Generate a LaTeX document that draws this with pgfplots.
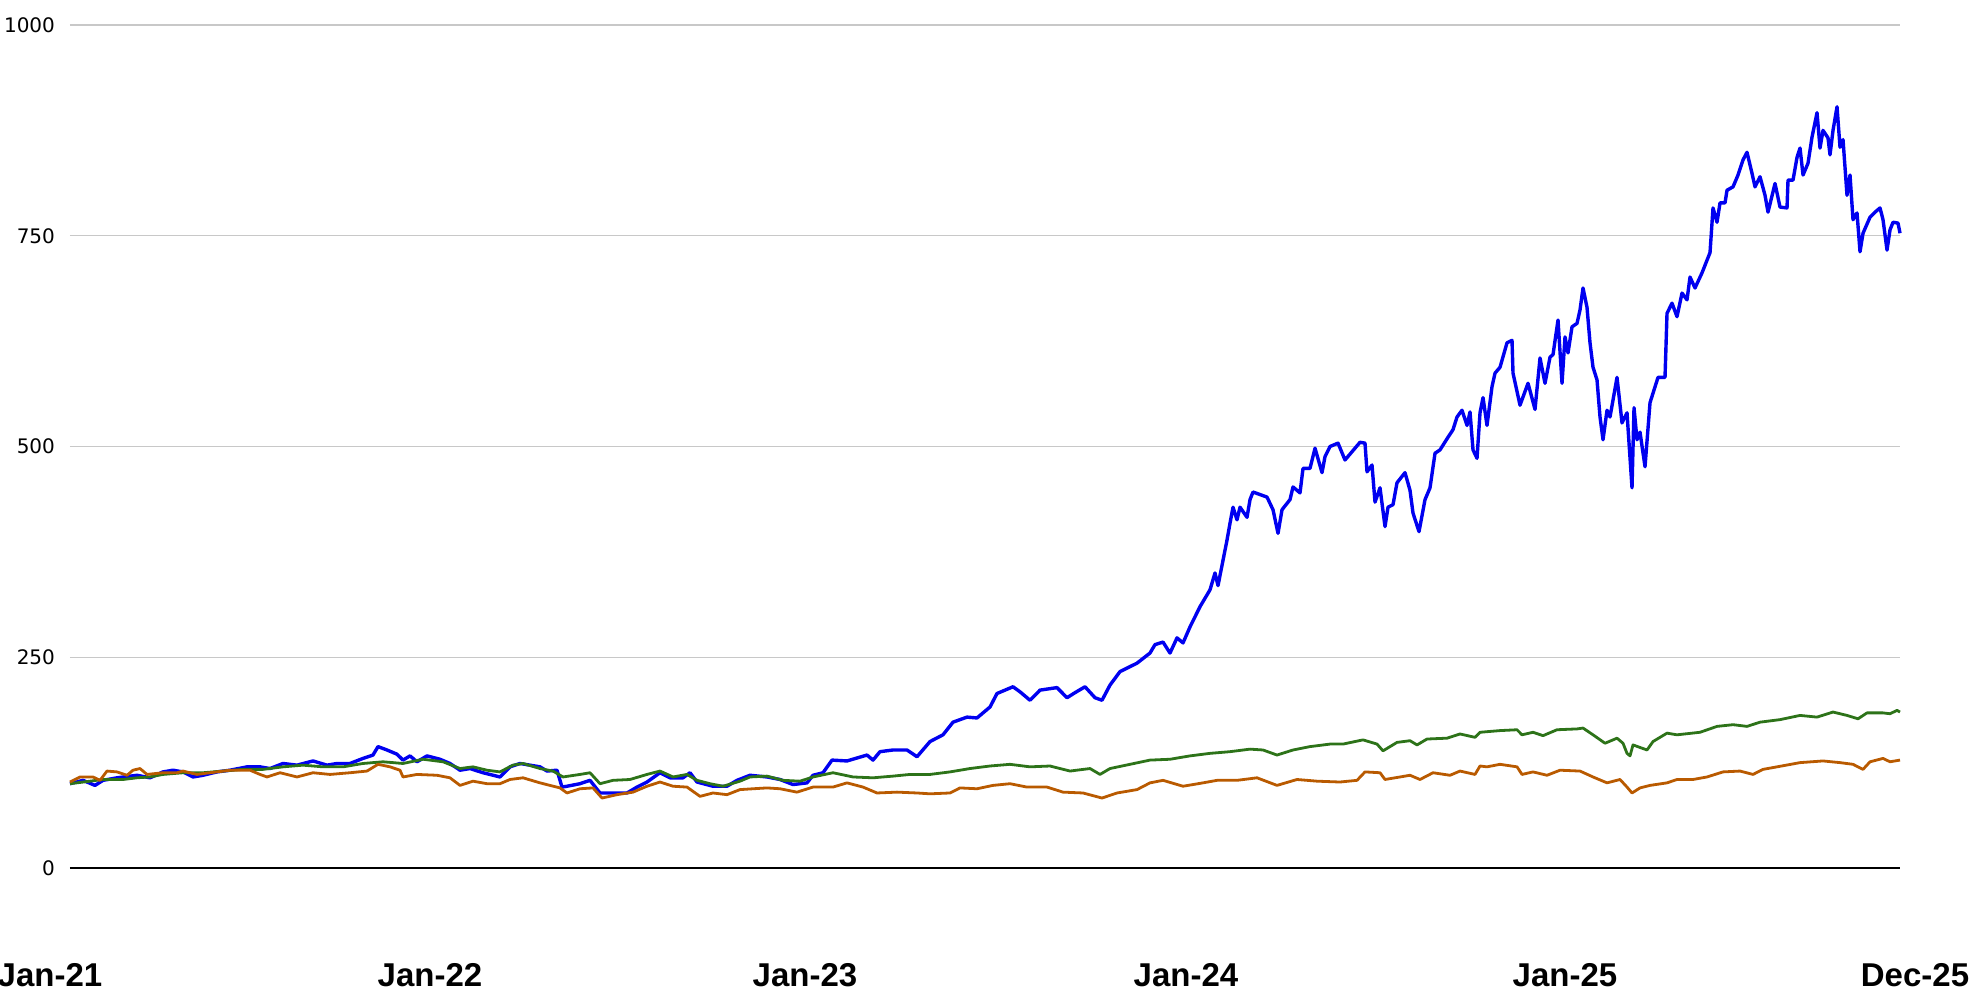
\documentclass[border=0pt]{standalone}
\usepackage{fontspec}
\setmainfont{Liberation Sans}
\newfontfamily\dejavu{DejaVu Sans}
\usepackage{pgfplots}
\pgfplotsset{compat=1.18}
\usepackage{pgfplotstable}
\definecolor{sblue}{RGB}{0,0,240}
\definecolor{sgreen}{RGB}{45,115,25}
\definecolor{sorange}{RGB}{185,90,0}
\definecolor{gridc}{RGB}{200,200,200}

% t = time position (Jan-21 = 70, Dec-25 = 1900), v = index value
\pgfplotstableread[row sep=\\]{
t v\\
70 100\\ 83 104\\ 95 98\\ 103 104\\ 117 107\\ 137 110\\ 150 107\\ 163 114\\ 173 116\\ 183 114\\
193 108\\ 203 110\\ 217 114\\ 230 116\\ 247 120\\ 260 120\\ 270 118\\ 283 124\\ 297 122\\ 313 127\\
327 122\\ 337 124\\ 350 124\\ 363 130\\ 373 134\\ 378 144\\ 387 140\\ 397 135\\ 403 128\\ 410 133\\
417 126\\ 427 133\\ 440 129\\ 450 124\\ 460 116\\ 470 118\\ 483 113\\ 500 108\\ 510 120\\ 520 124\\
540 120\\ 547 115\\ 557 116\\ 562 96\\ 567 97\\ 580 100\\ 590 104\\ 600 89\\ 613 89\\ 627 89\\
637 96\\ 647 102\\ 660 113\\ 670 107\\ 683 107\\ 690 113\\ 697 102\\ 713 97\\ 727 97\\ 737 104\\
750 110\\ 767 108\\ 780 105\\ 793 99\\ 807 101\\ 813 110\\ 823 113\\ 832 128\\ 847 127\\ 867 134\\
873 128\\ 880 138\\ 893 140\\ 907 140\\ 917 132\\ 930 150\\ 943 158\\ 953 173\\ 967 179\\ 977 178\\
990 191\\ 997 207\\ 1013 215\\ 1020 209\\ 1030 199\\ 1040 211\\ 1057 214\\ 1067 202\\ 1075 208\\ 1085 215\\
1095 202\\ 1102 199\\ 1110 217\\ 1120 233\\ 1137 243\\ 1150 255\\ 1155 265\\ 1163 268\\ 1170 255\\ 1177 273\\
1183 267\\ 1190 286\\ 1200 310\\ 1210 330\\ 1215 350\\ 1218 335\\ 1223 365\\ 1227 389\\ 1230 409\\ 1233 428\\
1237 413\\ 1240 428\\ 1247 416\\ 1250 437\\ 1253 446\\ 1267 440\\ 1273 425\\ 1278 397\\ 1282 425\\ 1290 437\\
1293 452\\ 1300 445\\ 1303 474\\ 1310 474\\ 1315 498\\ 1322 469\\ 1325 488\\ 1330 500\\ 1338 504\\ 1345 484\\
1360 505\\ 1365 504\\ 1367 470\\ 1372 478\\ 1375 434\\ 1380 451\\ 1385 405\\ 1388 428\\ 1393 431\\ 1397 457\\
1405 469\\ 1410 448\\ 1413 421\\ 1419 399\\ 1425 437\\ 1430 451\\ 1435 492\\ 1440 496\\ 1448 511\\ 1453 520\\
1457 535\\ 1462 543\\ 1467 525\\ 1470 541\\ 1473 496\\ 1477 486\\ 1480 540\\ 1483 558\\ 1487 525\\ 1492 571\\
1495 587\\ 1500 594\\ 1507 623\\ 1512 626\\ 1513 587\\ 1520 549\\ 1528 575\\ 1535 544\\ 1540 605\\ 1545 575\\
1550 606\\ 1553 609\\ 1558 650\\ 1562 575\\ 1565 630\\ 1568 611\\ 1572 642\\ 1577 646\\ 1580 662\\ 1583 688\\
1587 665\\ 1590 623\\ 1593 594\\ 1597 579\\ 1600 535\\ 1603 508\\ 1607 543\\ 1610 535\\ 1617 582\\ 1622 528\\
1627 540\\ 1632 451\\ 1634 546\\ 1637 508\\ 1640 517\\ 1645 476\\ 1650 552\\ 1658 582\\ 1665 582\\ 1667 658\\
1672 670\\ 1677 654\\ 1682 682\\ 1687 674\\ 1690 701\\ 1695 688\\ 1702 706\\ 1707 721\\ 1710 730\\ 1713 783\\
1717 766\\ 1720 789\\ 1725 789\\ 1727 804\\ 1733 808\\ 1738 822\\ 1743 840\\ 1747 849\\ 1752 824\\ 1755 808\\
1760 820\\ 1765 798\\ 1768 778\\ 1775 812\\ 1780 784\\ 1787 783\\ 1788 816\\ 1793 816\\ 1797 843\\ 1800 854\\
1803 822\\ 1808 836\\ 1812 867\\ 1817 896\\ 1820 854\\ 1823 875\\ 1828 866\\ 1830 846\\ 1833 875\\ 1837 903\\
1840 855\\ 1843 864\\ 1847 798\\ 1850 822\\ 1853 769\\ 1857 777\\ 1860 731\\ 1863 753\\ 1870 772\\ 1875 778\\
1880 783\\ 1883 769\\ 1887 733\\ 1890 757\\ 1893 766\\ 1898 765\\ 1900 753\\
}\blueseries

\pgfplotstableread[row sep=\\]{
t v\\
70 100\\ 90 103\\ 103 105\\ 123 105\\ 137 107\\ 150 108\\ 163 111\\ 183 113\\ 203 113\\ 223 115\\
243 117\\ 263 117\\ 283 120\\ 303 122\\ 323 120\\ 343 120\\ 363 124\\ 383 126\\ 403 124\\ 423 129\\
443 126\\ 460 118\\ 473 120\\ 487 116\\ 500 114\\ 513 122\\ 523 124\\ 540 118\\ 553 115\\ 563 108\\
580 111\\ 590 113\\ 600 100\\ 613 104\\ 630 105\\ 647 111\\ 660 115\\ 673 108\\ 687 111\\ 697 104\\
710 100\\ 723 97\\ 740 103\\ 750 108\\ 767 109\\ 783 104\\ 800 103\\ 813 108\\ 833 113\\ 853 108\\
873 107\\ 893 109\\ 910 111\\ 930 111\\ 950 114\\ 970 118\\ 990 121\\ 1010 123\\ 1030 120\\ 1050 121\\
1070 115\\ 1090 118\\ 1100 111\\ 1110 118\\ 1130 123\\ 1150 128\\ 1170 129\\ 1190 133\\ 1210 136\\ 1230 138\\
1250 141\\ 1263 140\\ 1277 134\\ 1293 140\\ 1310 144\\ 1330 147\\ 1343 147\\ 1363 152\\ 1377 147\\ 1383 139\\
1397 149\\ 1410 151\\ 1417 146\\ 1427 153\\ 1447 154\\ 1460 159\\ 1475 155\\ 1480 161\\ 1500 163\\ 1517 164\\
1522 158\\ 1533 161\\ 1543 157\\ 1557 164\\ 1577 165\\ 1583 166\\ 1593 158\\ 1605 148\\ 1617 154\\ 1623 148\\
1627 136\\ 1630 133\\ 1633 146\\ 1647 140\\ 1653 150\\ 1667 160\\ 1677 158\\ 1700 161\\ 1717 168\\ 1733 170\\
1747 168\\ 1760 173\\ 1780 176\\ 1800 181\\ 1817 179\\ 1833 185\\ 1847 181\\ 1858 177\\ 1867 184\\ 1883 184\\
1890 183\\ 1897 187\\ 1900 185\\
}\greenseries

\pgfplotstableread[row sep=\\]{
t v\\
70 102\\ 80 108\\ 93 108\\ 100 104\\ 107 115\\ 117 114\\ 127 110\\ 133 116\\ 140 118\\ 147 111\\
163 113\\ 177 113\\ 183 115\\ 197 111\\ 210 113\\ 230 116\\ 250 116\\ 260 111\\ 267 108\\ 280 113\\
297 108\\ 313 113\\ 330 111\\ 350 113\\ 367 115\\ 378 123\\ 390 120\\ 400 116\\ 403 108\\ 417 111\\
437 110\\ 450 107\\ 460 98\\ 473 103\\ 487 100\\ 500 100\\ 510 105\\ 523 107\\ 540 101\\ 560 95\\
567 89\\ 580 94\\ 593 95\\ 602 83\\ 617 87\\ 633 90\\ 647 97\\ 660 102\\ 673 97\\ 687 96\\
700 85\\ 713 89\\ 727 87\\ 740 93\\ 753 94\\ 767 95\\ 780 94\\ 797 90\\ 813 96\\ 833 96\\
847 101\\ 863 96\\ 877 89\\ 897 90\\ 917 89\\ 930 88\\ 950 89\\ 960 95\\ 977 94\\ 993 98\\
1010 100\\ 1027 96\\ 1047 96\\ 1063 90\\ 1083 89\\ 1102 83\\ 1117 89\\ 1137 93\\ 1150 101\\ 1163 104\\
1183 97\\ 1203 101\\ 1217 104\\ 1237 104\\ 1257 107\\ 1277 98\\ 1297 105\\ 1317 103\\ 1340 102\\ 1357 104\\
1365 114\\ 1380 113\\ 1385 105\\ 1400 108\\ 1410 110\\ 1420 105\\ 1433 113\\ 1450 110\\ 1460 115\\ 1475 111\\
1480 121\\ 1487 120\\ 1500 123\\ 1517 120\\ 1522 111\\ 1533 114\\ 1547 110\\ 1560 116\\ 1580 115\\ 1593 108\\
1607 101\\ 1620 105\\ 1627 96\\ 1632 89\\ 1640 95\\ 1650 98\\ 1667 101\\ 1677 105\\ 1693 105\\ 1707 108\\
1723 114\\ 1740 115\\ 1753 111\\ 1763 117\\ 1777 120\\ 1800 125\\ 1823 127\\ 1840 125\\ 1853 123\\ 1863 117\\
1870 126\\ 1883 130\\ 1890 126\\ 1900 128\\
}\orangeseries

\begin{document}
\begin{tikzpicture}
\begin{axis}[
  scale only axis,
  width=915pt, height=421.5pt,
  xmin=70, xmax=1900, ymin=0, ymax=1000,
  clip=false,
  axis line style={draw=none},
  major tick length=0pt,
  ytick={250,500,750,1000},
  extra y ticks={0},
  extra y tick style={grid style={black, line width=0.7pt}},
  ymajorgrids,
  grid style={gridc, line width=0.75pt},
  yticklabel style={font=\dejavu\fontsize{10}{12}\selectfont, xshift=-4pt},
  /pgf/number format/assume math mode=true,
  /pgf/number format/1000 sep={},
  xtick={70,442,814,1186,1558,1900},
  xticklabels={
    \makebox[0pt]{\hspace*{-20pt}Jan-21},
    \makebox[0pt]{\hspace*{-12pt}Jan-22},
    \makebox[0pt]{\hspace*{-9pt}Jan-23},
    \makebox[0pt]{\raisebox{2.5pt}{Jan-24}},
    \makebox[0pt]{\hspace*{7pt}Jan-25},
    \makebox[0pt]{\hspace*{15pt}Dec-25}},
  xticklabel style={font=\bfseries\fontsize{16.5}{19}\selectfont, yshift=-44pt},
]
\coordinate (bl) at (rel axis cs:0,0);
\coordinate (tr) at (rel axis cs:1,1);
\addplot[sblue, line width=1.7pt, line join=round] table[x=t, y=v] {\blueseries};
\addplot[sgreen, line width=1.4pt, line join=round] table[x=t, y=v] {\greenseries};
\addplot[sorange, line width=1.4pt, line join=round] table[x=t, y=v] {\orangeseries};
\end{axis}
\pgfresetboundingbox
\path[use as bounding box] ([xshift=-35pt,yshift=-62pt]bl) rectangle ([xshift=34.5pt,yshift=12.5pt]tr);
\end{tikzpicture}
\end{document}
